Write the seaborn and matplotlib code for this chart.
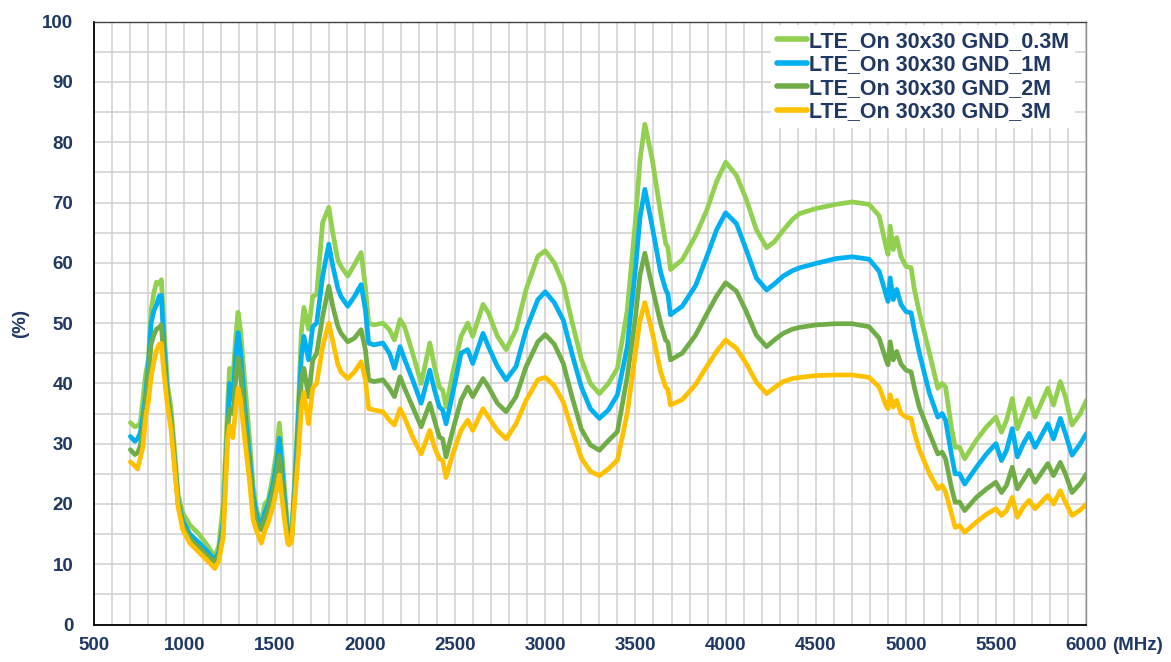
import numpy as np
import pandas as pd
import matplotlib
matplotlib.use("Agg")
import matplotlib.pyplot as plt
import seaborn as sns

# Measured antenna efficiency (%) versus frequency (MHz)
freq_mhz = [
    700, 725, 740, 755, 770, 785, 800, 815, 830, 845, 860, 872, 885, 905, 925,
    945, 965, 990, 1030, 1080, 1130, 1168, 1190, 1215, 1240, 1250, 1268, 1285,
    1297, 1310, 1333, 1360, 1380, 1400, 1426, 1445, 1465, 1490, 1512, 1526,
    1540, 1556, 1572, 1580, 1594, 1612, 1631, 1648, 1662, 1688, 1711, 1733,
    1766, 1800, 1822, 1850, 1868, 1905, 1942, 1979, 2003, 2021, 2050, 2100,
    2136, 2164, 2195, 2220, 2265, 2312, 2360, 2386, 2413, 2431, 2450, 2487,
    2533, 2570, 2598, 2655, 2685, 2735, 2783, 2838, 2894, 2959, 3000, 3050,
    3100, 3150, 3200, 3250, 3300, 3350, 3400, 3454, 3500, 3525, 3552, 3593,
    3639, 3667, 3680, 3694, 3759, 3833, 3895, 3950, 4000, 4060, 4116, 4170,
    4227, 4270, 4319, 4370, 4412, 4500, 4610, 4702, 4795, 4851, 4888, 4900,
    4912, 4929, 4948, 4972, 5000, 5028, 5046, 5074, 5130, 5176, 5200, 5219,
    5251, 5272, 5297, 5325, 5390, 5446, 5498, 5529, 5557, 5589, 5617, 5650,
    5682, 5715, 5786, 5817, 5855, 5883, 5920, 5966, 6000,
]

eff_gnd_03m = [
    33.5, 32.8, 33.0, 33.4, 37.5, 41.5, 44.0, 52.0, 55.0, 56.8, 56.5, 57.2, 50.0, 40.0, 36.0,
    29.0, 21.5, 18.5, 16.5, 15.0, 13.0, 11.2, 13.0, 20.0, 36.8, 42.5, 40.7, 48.0,
    51.8, 49.0, 40.7, 31.0, 23.0, 19.0, 16.8, 20.0, 20.7, 24.6, 29.0, 33.4,
    28.5, 22.0, 16.0, 14.6, 15.2, 24.6, 36.0, 48.5, 52.6, 49.0, 54.4, 54.8,
    66.7, 69.2, 65.0, 60.5, 59.4, 57.8, 59.7, 61.7, 56.0, 50.0, 49.7, 50.0,
    48.9, 47.2, 50.6, 49.4, 45.0, 40.0, 46.7, 42.8, 39.4, 38.9, 36.1, 41.7,
    47.8, 50.0, 47.8, 53.1, 51.7, 47.8, 45.6, 48.9, 55.6, 61.1, 62.0, 60.0,
    56.5, 50.0, 44.0, 40.0, 38.3, 40.0, 42.5, 52.0, 67.0, 77.0, 83.0, 77.2,
    68.3, 63.3, 62.5, 58.9, 60.5, 64.5, 68.7, 73.5, 76.7, 74.5, 70.4, 65.5,
    62.5, 63.5, 65.4, 67.2, 68.2, 69.0, 69.7, 70.1, 69.7, 67.8, 62.8, 61.4,
    66.1, 62.2, 64.2, 61.0, 59.4, 59.2, 55.6, 51.7, 45.0, 39.2, 40.0, 39.4,
    32.8, 29.4, 29.4, 27.5, 30.6, 32.8, 34.4, 31.9, 33.9, 37.5, 32.5, 35.0,
    37.5, 34.4, 39.2, 36.4, 40.3, 37.8, 33.1, 35.0, 37.2,
]

eff_gnd_1m = [
    31.2, 30.4, 30.8, 31.8, 34.5, 38.0, 43.0, 50.0, 52.0, 53.0, 54.5, 54.6, 47.0, 38.5, 34.0,
    27.0, 20.5, 17.2, 15.0, 13.6, 12.0, 10.7, 12.0, 17.0, 33.0, 40.0, 37.3, 45.0,
    48.4, 45.5, 36.5, 28.0, 21.5, 18.2, 16.2, 18.5, 20.0, 23.0, 27.0, 30.9,
    26.0, 20.5, 15.0, 14.0, 14.6, 23.4, 34.0, 44.5, 47.8, 43.9, 49.4, 50.0,
    57.8, 63.1, 59.5, 55.8, 54.4, 52.8, 54.4, 56.4, 52.2, 46.7, 46.4, 46.7,
    45.0, 42.5, 46.1, 44.0, 40.6, 36.7, 42.2, 38.9, 36.1, 35.6, 33.3, 38.3,
    45.0, 45.6, 43.3, 48.3, 46.1, 42.8, 40.6, 42.8, 48.9, 53.9, 55.2, 53.4,
    50.5, 44.7, 39.4, 35.8, 34.2, 35.6, 38.1, 46.0, 59.0, 67.5, 72.2, 66.0,
    58.5, 55.6, 54.8, 51.4, 52.8, 56.2, 61.0, 65.5, 68.3, 66.5, 62.0, 57.5,
    55.5, 56.5, 57.8, 58.7, 59.2, 59.9, 60.7, 61.0, 60.6, 58.6, 54.8, 53.6,
    57.5, 53.9, 55.6, 53.1, 51.9, 51.7, 48.8, 45.0, 38.3, 34.4, 35.0, 33.9,
    28.3, 25.0, 25.0, 23.3, 26.1, 28.3, 30.0, 27.2, 28.9, 32.5, 27.8, 30.0,
    31.7, 29.4, 33.3, 30.8, 34.2, 31.7, 28.1, 30.0, 31.7,
]

eff_gnd_2m = [
    29.0, 28.2, 28.5, 29.6, 32.5, 36.8, 41.0, 46.5, 48.0, 49.0, 49.3, 49.7, 44.0, 38.0, 34.0,
    27.0, 20.0, 16.5, 14.2, 12.8, 11.3, 10.4, 11.5, 16.0, 33.0, 35.7, 35.0, 41.0,
    44.2, 42.0, 34.0, 26.0, 19.5, 17.0, 15.7, 17.5, 19.0, 22.0, 25.0, 28.0,
    24.0, 19.0, 14.3, 13.7, 14.2, 22.0, 31.0, 40.5, 42.5, 37.8, 43.9, 45.0,
    51.1, 56.1, 52.8, 49.5, 48.3, 46.9, 47.5, 48.9, 45.6, 40.6, 40.3, 40.6,
    39.2, 37.8, 41.1, 39.2, 36.1, 32.8, 36.7, 33.9, 31.1, 30.8, 27.8, 32.2,
    37.2, 39.4, 37.8, 40.8, 39.4, 36.7, 35.3, 37.8, 42.8, 46.9, 48.1, 46.5,
    43.3, 37.6, 32.4, 29.8, 28.9, 30.5, 32.0, 41.0, 51.0, 58.0, 61.6, 56.0,
    50.0, 47.2, 46.8, 43.9, 45.0, 48.0, 51.5, 54.5, 56.7, 55.3, 51.8, 48.0,
    46.1, 47.2, 48.3, 49.0, 49.3, 49.7, 49.9, 49.9, 49.4, 47.5, 44.0, 43.1,
    46.9, 43.9, 45.3, 43.2, 42.2, 41.9, 39.3, 36.0, 31.7, 28.3, 28.6, 27.5,
    22.8, 20.3, 20.3, 18.9, 21.1, 22.5, 23.6, 21.9, 23.1, 26.1, 22.5, 24.0,
    25.6, 23.6, 26.7, 24.7, 26.9, 25.0, 21.9, 23.4, 25.0,
]

eff_gnd_3m = [
    27.0, 26.3, 25.8, 27.6, 29.5, 34.5, 37.0, 41.0, 43.5, 45.5, 46.5, 46.6, 42.0, 36.5, 32.5,
    26.0, 19.5, 15.8, 13.5, 12.0, 10.5, 9.3, 10.5, 14.5, 31.0, 33.0, 31.0, 36.0,
    39.2, 37.5, 31.0, 24.0, 17.5, 15.5, 13.5, 15.5, 17.0, 19.5, 22.5, 24.8,
    21.0, 17.0, 13.5, 13.2, 13.8, 20.7, 28.0, 36.0, 38.5, 33.3, 39.2, 40.0,
    46.1, 50.0, 47.0, 43.2, 41.9, 40.8, 41.9, 43.6, 40.6, 35.8, 35.6, 35.3,
    33.9, 33.1, 35.8, 34.3, 31.1, 28.3, 32.2, 29.4, 27.5, 27.2, 24.4, 28.3,
    32.2, 33.9, 32.2, 35.8, 34.4, 32.2, 30.8, 33.3, 37.2, 40.6, 41.0, 39.6,
    36.9, 32.1, 27.6, 25.4, 24.7, 25.8, 27.3, 35.0, 45.0, 50.5, 53.4, 48.5,
    42.0, 39.4, 39.0, 36.4, 37.3, 39.8, 42.8, 45.3, 47.2, 45.8, 43.2, 40.2,
    38.3, 39.3, 40.3, 40.8, 41.0, 41.3, 41.4, 41.4, 41.0, 39.4, 36.4, 35.8,
    38.1, 36.1, 37.2, 35.0, 34.4, 34.2, 31.8, 29.0, 25.0, 22.5, 23.1, 22.0,
    18.5, 16.1, 16.4, 15.3, 17.0, 18.3, 19.2, 18.1, 18.9, 21.1, 17.8, 19.5,
    20.6, 19.2, 21.4, 20.0, 22.2, 20.3, 18.1, 19.0, 20.0,
]

series_names = [
    "LTE_On 30x30 GND_0.3M",
    "LTE_On 30x30 GND_1M",
    "LTE_On 30x30 GND_2M",
    "LTE_On 30x30 GND_3M",
]
series_colors = ["#92D050", "#00B0F0", "#70AD47", "#FFC000"]

x_ticks = list(range(500, 6001, 500))
y_ticks = list(range(0, 101, 10))

navy = "#1F3864"

sns.set_style("white")
plt.rcParams["font.family"] = ["Liberation Sans", "DejaVu Sans"]
plt.rcParams["font.weight"] = "bold"

wide = pd.DataFrame({
    "freq": freq_mhz,
    series_names[0]: eff_gnd_03m,
    series_names[1]: eff_gnd_1m,
    series_names[2]: eff_gnd_2m,
    series_names[3]: eff_gnd_3m,
})
data = wide.melt(id_vars="freq", var_name="series", value_name="eff")

fig = plt.figure(figsize=(11.71, 6.62), dpi=100)
ax = fig.add_axes([0.0805, 0.0566, 0.8473, 0.9106])

sns.lineplot(
    data=data, x="freq", y="eff", hue="series", hue_order=series_names,
    palette=series_colors, linewidth=3.4, sort=False, estimator=None,
    ax=ax, legend=True,
)
for line in ax.get_lines():
    line.set_solid_joinstyle("round")
    line.set_solid_capstyle("round")

ax.set_xlim(500, 6000)
ax.set_ylim(0, 100)
ax.set_xticks(x_ticks)
ax.set_yticks(y_ticks)
ax.set_xticks(np.arange(500, 6001, 100), minor=True)
ax.set_yticks(np.arange(0, 101, 5), minor=True)
ax.grid(True, which="both", color="#D0D0D0", linewidth=1.1)
ax.set_axisbelow(True)

ax.tick_params(which="major", direction="in", length=5, width=1.2,
               color="black", labelsize=13.5, labelcolor=navy)
ax.tick_params(axis="x", which="major", pad=9)
ax.tick_params(axis="y", which="major", pad=15)
ax.tick_params(which="minor", length=0)
for lab in ax.get_xticklabels() + ax.get_yticklabels():
    lab.set_fontweight("bold")

for side in ["left", "bottom"]:
    ax.spines[side].set_color("black")
    ax.spines[side].set_linewidth(1.3)
ax.spines["top"].set_color("#404040")
ax.spines["right"].set_color("#909090")
ax.spines["top"].set_linewidth(1.0)
ax.spines["right"].set_linewidth(1.0)

ax.set_xlabel("")
ax.set_ylabel("(%)", fontsize=13.5, fontweight="bold", color=navy)
ax.yaxis.set_label_coords(-0.066, 0.5)
fig.text(1112 / 1171, 1 - 646 / 662, "(MHz)", fontsize=13.5, fontweight="bold",
         color=navy, ha="left", va="center")

handles, labels = ax.get_legend_handles_labels()
leg = ax.legend(
    handles, labels, loc="upper right", bbox_to_anchor=(0.988, 0.994),
    frameon=True, facecolor="white", edgecolor="none", framealpha=1.0,
    labelcolor=navy, handlelength=1.4, handletextpad=0.1,
    labelspacing=0.12, borderpad=0.25, borderaxespad=0.0,
    prop={"weight": "bold", "size": 15.5},
)
for h in leg.get_lines():
    h.set_linewidth(4)

fig.savefig("out.png", dpi=100)
